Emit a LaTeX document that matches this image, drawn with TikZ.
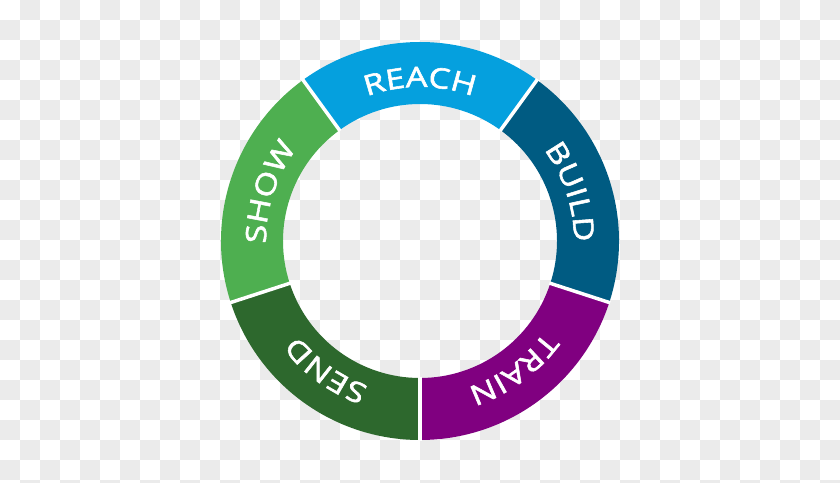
\documentclass[tikz,border=0pt]{standalone}
\usepackage{fontspec}
\newfontfamily\lblfont{Open Sans}[FakeStretch=1.22, FakeBold=2]
\usetikzlibrary{decorations.text}
\definecolor{checkgray}{HTML}{EBEBEB}
\definecolor{reachc}{HTML}{05A0DE}
\definecolor{buildc}{HTML}{005B82}
\definecolor{trainc}{HTML}{800080}
\definecolor{sendc}{HTML}{2D682D}
\definecolor{showc}{HTML}{4EAF50}
\newcommand\lblfmt{\lblfont\fontsize{28}{28}\selectfont}
\tikzset{
  seglabel/.style={decorate, decoration={text along path, text color=white, text align=center, text={|\lblfmt|#1}}},
  divider/.style={draw=white, line width=3.5pt}
}
\begin{document}
\begin{tikzpicture}[x=1pt,y=1pt]
\useasboundingbox (0,0) rectangle (840,482);
% checkerboard background
\fill[white] (0,0) rectangle (840,482);
\begin{scope}
\clip (0,0) rectangle (840,482);
\foreach \j in {0,...,24} {
  \foreach \i in {0,...,20} {
    \pgfmathtruncatemacro\xx{2*\i + mod(\j+1,2)}
    \fill[checkgray] (20*\xx, 462-20*\j) rectangle ++(20,20);
  }
}
\end{scope}
\begin{scope}[shift={(420,241)}]
% segments
\fill[reachc] (54:199) arc[start angle=54, end angle=126, radius=199] -- (126:137) arc[start angle=126, end angle=54, radius=137] -- cycle;
\fill[buildc] (-18:199) arc[start angle=-18, end angle=54, radius=199] -- (54:137) arc[start angle=54, end angle=-18, radius=137] -- cycle;
\fill[trainc] (-90:199) arc[start angle=-90, end angle=-18, radius=199] -- (-18:137) arc[start angle=-18, end angle=-90, radius=137] -- cycle;
\fill[sendc] (198:199) arc[start angle=198, end angle=270, radius=199] -- (270:137) arc[start angle=270, end angle=198, radius=137] -- cycle;
\fill[showc] (126:199) arc[start angle=126, end angle=198, radius=199] -- (198:137) arc[start angle=198, end angle=126, radius=137] -- cycle;
% dividers
\foreach \a in {54,126,198,270,-18}
  \draw[divider] (\a:136) -- (\a:200);
% labels
\path[seglabel=REACH] (126:154) arc[start angle=126, end angle=54, radius=154];
\path[seglabel=BUILD] (54:154) arc[start angle=54, end angle=-18, radius=154];
\path[seglabel=TRAIN] (-18:154) arc[start angle=-18, end angle=-90, radius=154];
\path[seglabel=SEND] (-90:154) arc[start angle=-90, end angle=-162, radius=154];
\path[seglabel=SHOW] (198:154) arc[start angle=198, end angle=126, radius=154];
\end{scope}
\end{tikzpicture}
\end{document}
